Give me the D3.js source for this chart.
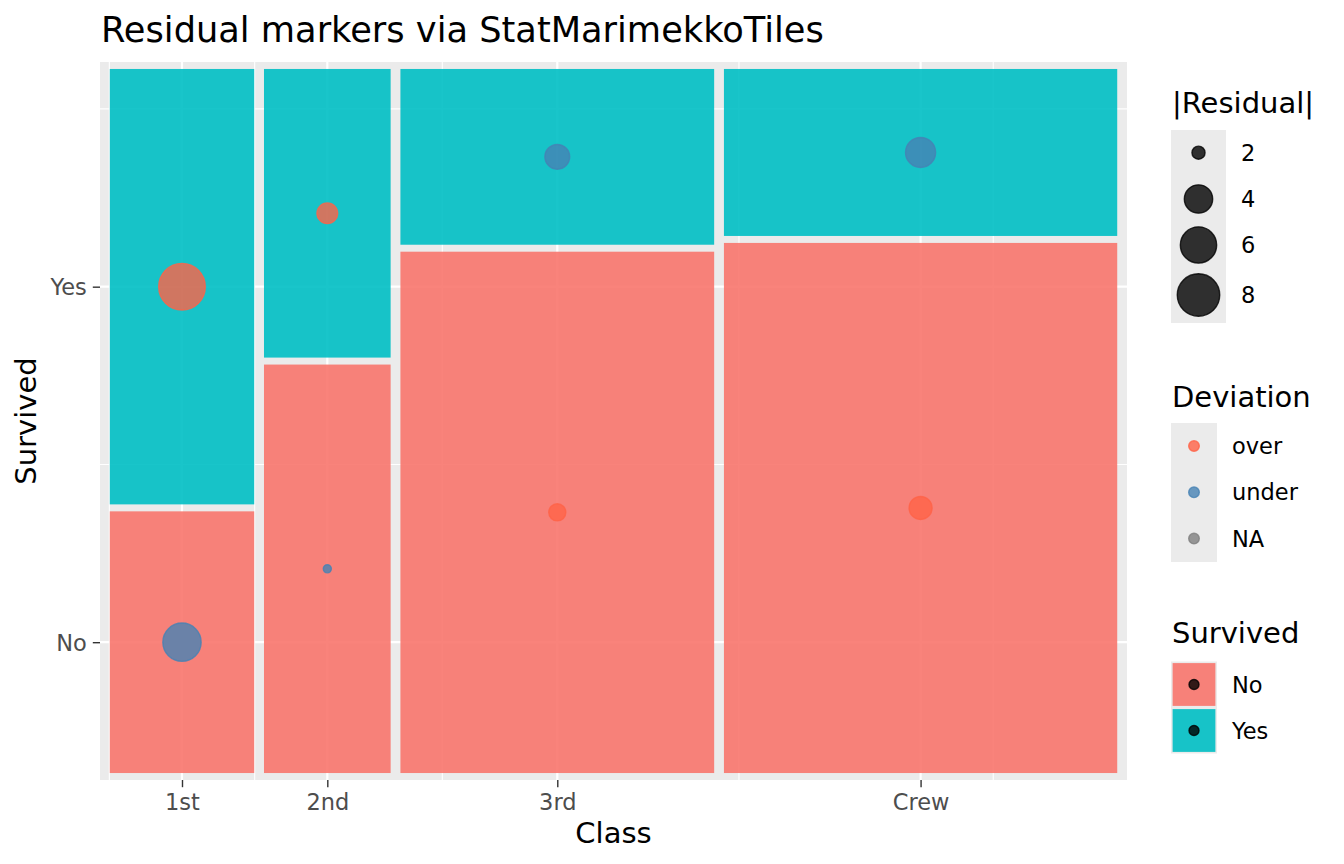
<!DOCTYPE html>
<html>
<head>
<meta charset="utf-8">
<script src="https://cdn.jsdelivr.net/npm/d3@7"></script>
<style>
  html, body { margin: 0; padding: 0; background: #fff; }
  svg { display: block; font-family: "DejaVu Sans", sans-serif; }
</style>
</head>
<body>
<svg id="chart" width="1344" height="864"></svg>
<script>
// ---------------- data ----------------
const classes = ["1st", "2nd", "3rd", "Crew"];
const survivedLevels = ["No", "Yes"];
const countNo = [122, 167, 528, 673];
const countYes = [203, 118, 178, 212];
const residualNo = [-6.61, -1.87, 2.29, 3.02];
const residualYes = [9.57, 2.70, -3.32, -4.37];
const sizeBreaks = [2, 4, 6, 8];
const deviationLevels = ["over", "under", "NA"];
const titleText = "Residual markers via StatMarimekkoTiles";

// ---------------- layout ----------------
const svg = d3.select("#chart");
const panel = { left: 100, right: 1127, top: 62, bottom: 780 };
const gap = 0.01;
const fillColors = { No: "#F8766D", Yes: "#00BFC4" };
const devColors = { over: "#FF6347", under: "#4682B4", NA: "#7F7F7F" };

const x = d3.scaleLinear().domain([-0.01, 1.04]).range([panel.left, panel.right]);
const y = d3.scaleLinear().domain([-0.01, 1.02]).range([panel.bottom, panel.top]);

// build tiles
const totals = classes.map((c, i) => countNo[i] + countYes[i]);
const grand = d3.sum(totals);
const tiles = [];
let cum = 0;
classes.forEach((c, i) => {
  const p = totals[i] / grand;
  const x0 = cum + i * gap, x1 = x0 + p;
  const pNo = countNo[i] / totals[i];
  tiles.push({ cls: c, surv: "No", x0, x1, y0: 0, y1: pNo, res: residualNo[i] });
  tiles.push({ cls: c, surv: "Yes", x0, x1, y0: pNo + gap, y1: 1 + gap, res: residualYes[i] });
  cum += p;
});
const xBreaks = classes.map(c => { const t = tiles.find(d => d.cls === c); return (t.x0 + t.x1) / 2; });
const firstCol = tiles.filter(d => d.cls === classes[0]);
const yBreaks = survivedLevels.map(s => { const t = firstCol.find(d => d.surv === s); return (t.y0 + t.y1) / 2; });

function minorBreaks(b, lim) {
  const bd = b[1] - b[0];
  let e = b.slice();
  if (lim[0] < e[0]) e.unshift(e[0] - bd);
  if (lim[1] > e[e.length - 1]) e.push(e[e.length - 1] + bd);
  const out = [];
  for (let i = 0; i < e.length - 1; i++) out.push((e[i] + e[i + 1]) / 2);
  return out.filter(v => v >= lim[0] && v <= lim[1]);
}
const xMinor = minorBreaks(xBreaks, x.domain());
const yMinor = minorBreaks(yBreaks, y.domain());

// panel background
svg.append("rect").attr("x", panel.left).attr("y", panel.top)
  .attr("width", panel.right - panel.left).attr("height", panel.bottom - panel.top)
  .attr("fill", "#EBEBEB");

const grid = svg.append("g");
grid.selectAll(".xmin").data(xMinor).join("line")
  .attr("x1", d => x(d)).attr("x2", d => x(d)).attr("y1", panel.top).attr("y2", panel.bottom)
  .attr("stroke", "#fff").attr("stroke-width", 1.1);
grid.selectAll(".ymin").data(yMinor).join("line")
  .attr("y1", d => y(d)).attr("y2", d => y(d)).attr("x1", panel.left).attr("x2", panel.right)
  .attr("stroke", "#fff").attr("stroke-width", 1.1);
grid.selectAll(".xmaj").data(xBreaks).join("line")
  .attr("x1", d => x(d)).attr("x2", d => x(d)).attr("y1", panel.top).attr("y2", panel.bottom)
  .attr("stroke", "#fff").attr("stroke-width", 2.2);
grid.selectAll(".ymaj").data(yBreaks).join("line")
  .attr("y1", d => y(d)).attr("y2", d => y(d)).attr("x1", panel.left).attr("x2", panel.right)
  .attr("stroke", "#fff").attr("stroke-width", 2.2);

// tiles
svg.append("g").selectAll("rect").data(tiles).join("rect")
  .attr("x", d => x(d.x0)).attr("y", d => y(d.y1))
  .attr("width", d => x(d.x1) - x(d.x0)).attr("height", d => y(d.y0) - y(d.y1))
  .attr("fill", d => fillColors[d.surv]).attr("fill-opacity", 0.9);

// size scale (area-like)
const absVals = tiles.map(d => Math.abs(d.res));
const rMin = d3.min(absVals), rMax = d3.max(absVals);
const diam = d3.scaleSqrt().domain([0, rMax - rMin]).range([9.5, 48]);
const sizeOf = v => diam(Math.max(0, v - rMin));
const sw = 1.4;

svg.append("g").selectAll("circle").data(tiles).join("circle")
  .attr("cx", d => x((d.x0 + d.x1) / 2)).attr("cy", d => y((d.y0 + d.y1) / 2))
  .attr("r", d => sizeOf(Math.abs(d.res)) / 2 - sw / 2)
  .attr("fill", d => devColors[d.res > 0 ? "over" : "under"])
  .attr("stroke", d => devColors[d.res > 0 ? "over" : "under"])
  .attr("fill-opacity", 0.8).attr("stroke-opacity", 0.8).attr("stroke-width", sw);

// axes
const xAxis = d3.axisBottom(x).tickValues(xBreaks).tickFormat((d, i) => classes[i]).tickSize(7.2).tickPadding(6);
const gx = svg.append("g").attr("transform", `translate(0,${panel.bottom})`).call(xAxis);
const yAxis = d3.axisLeft(y).tickValues(yBreaks).tickFormat((d, i) => survivedLevels[i]).tickSize(7.2).tickPadding(6);
const gy = svg.append("g").attr("transform", `translate(${panel.left},0)`).call(yAxis);
[gx, gy].forEach(g => {
  g.select(".domain").remove();
  g.selectAll(".tick line").attr("stroke", "#333333").attr("stroke-width", 1.4);
  g.selectAll(".tick text").attr("fill", "#4D4D4D").attr("font-size", 22.5)
    .attr("font-family", "DejaVu Sans");
});
gx.selectAll(".tick text").attr("dy", null).attr("y", 30);
gy.selectAll(".tick text").attr("dy", "0.36em");

// titles
svg.append("text").attr("x", 101).attr("y", 41.5).attr("font-size", 35.2).attr("fill", "#000").text(titleText);
svg.append("text").attr("x", (panel.left + panel.right) / 2).attr("y", 843).attr("text-anchor", "middle")
  .attr("font-size", 29).attr("fill", "#000").text("Class");
svg.append("text").attr("transform", `translate(36,${(panel.top + panel.bottom) / 2}) rotate(-90)`)
  .attr("text-anchor", "middle").attr("font-size", 29).attr("fill", "#000").text("Survived");

// ---------------- legends ----------------
const lg = svg.append("g");
const legX = 1171;
// size legend
lg.append("text").attr("x", legX + 1).attr("y", 113).attr("font-size", 29).text("|Residual|");
const sizeRows = [152.7, 199, 245, 295];
lg.append("rect").attr("x", legX).attr("y", 130).attr("width", 55).attr("height", 193).attr("fill", "#EBEBEB");
lg.selectAll(".sz").data(sizeBreaks).join("circle")
  .attr("cx", legX + 27.5).attr("cy", (d, i) => sizeRows[i])
  .attr("r", d => sizeOf(d) / 2 - sw / 2)
  .attr("fill", "#000").attr("stroke", "#000")
  .attr("fill-opacity", 0.8).attr("stroke-opacity", 0.8).attr("stroke-width", sw);
lg.selectAll(".szt").data(sizeBreaks).join("text")
  .attr("x", 1241).attr("y", (d, i) => sizeRows[i]).attr("dy", "0.36em")
  .attr("font-size", 22.5).text(d => d);

// deviation legend
lg.append("text").attr("x", legX + 1).attr("y", 406.5).attr("font-size", 29).text("Deviation");
lg.append("rect").attr("x", legX).attr("y", 423).attr("width", 46).attr("height", 139).attr("fill", "#EBEBEB");
const devRows = [446, 492.3, 538.6];
lg.selectAll(".dv").data(deviationLevels).join("circle")
  .attr("cx", legX + 23).attr("cy", (d, i) => devRows[i]).attr("r", 5.3)
  .attr("fill", d => devColors[d]).attr("stroke", d => devColors[d])
  .attr("fill-opacity", 0.8).attr("stroke-opacity", 0.8).attr("stroke-width", sw);
lg.selectAll(".dvt").data(deviationLevels).join("text")
  .attr("x", 1232).attr("y", (d, i) => devRows[i]).attr("dy", "0.36em")
  .attr("font-size", 22.5).text(d => d);

// survived legend
lg.append("text").attr("x", legX + 1).attr("y", 643).attr("font-size", 29).text("Survived");
lg.append("rect").attr("x", legX).attr("y", 661.5).attr("width", 46).attr("height", 92).attr("fill", "#EBEBEB");
const survRows = [684.5, 730.5];
lg.selectAll(".svk").data(survivedLevels).join("rect")
  .attr("x", legX + 1.6).attr("y", (d, i) => survRows[i] - 21.4)
  .attr("width", 42.8).attr("height", 42.8)
  .attr("fill", d => fillColors[d]).attr("fill-opacity", 0.9);
lg.selectAll(".svd").data(survivedLevels).join("circle")
  .attr("cx", legX + 23).attr("cy", (d, i) => survRows[i]).attr("r", 5)
  .attr("fill", "#000").attr("stroke", "#000")
  .attr("fill-opacity", 0.8).attr("stroke-opacity", 0.8).attr("stroke-width", sw);
lg.selectAll(".svt").data(survivedLevels).join("text")
  .attr("x", 1232).attr("y", (d, i) => survRows[i]).attr("dy", "0.36em")
  .attr("font-size", 22.5).text(d => d);
</script>
</body>
</html>
